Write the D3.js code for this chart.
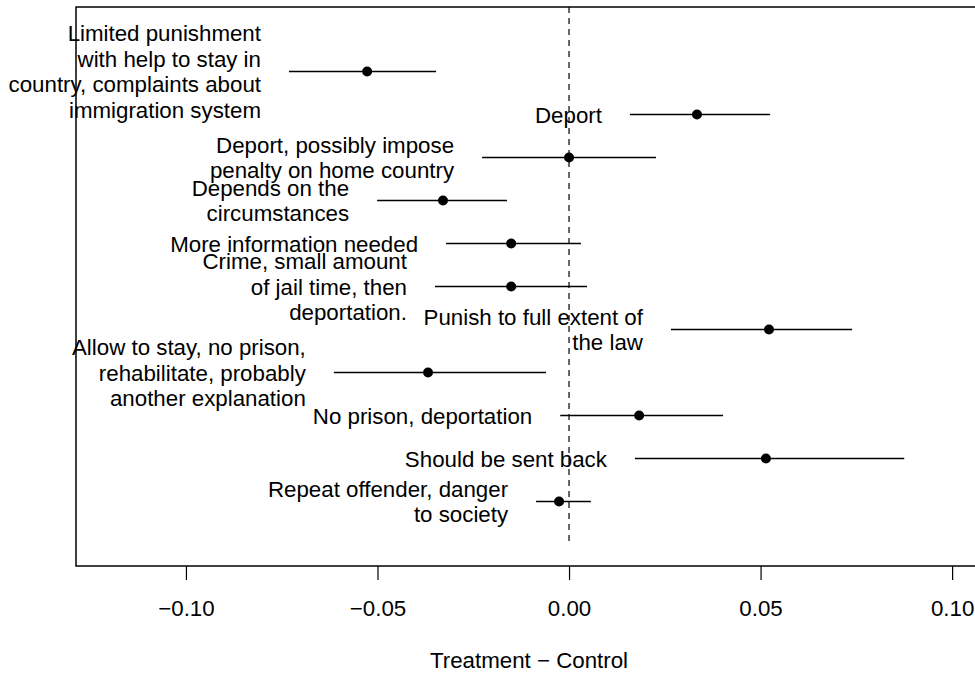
<!DOCTYPE html>
<html>
<head>
<meta charset="utf-8">
<script src="https://cdn.jsdelivr.net/npm/d3@7"></script>
<style>
  body { margin: 0; background: #fff; }
  svg text { font-family: "Liberation Sans", Arial, Helvetica, sans-serif; fill: #000; }
</style>
</head>
<body>
<svg id="chart" width="975" height="675"></svg>
<script>
// categorias (de cima para baixo), com quebras de linha
const labels = [
    ["Limited punishment", "with help to stay in", "country, complaints about", "immigration system"],
    ["Deport"],
    ["Deport, possibly impose", "penalty on home country"],
    ["Depends on the", "circumstances"],
    ["More information needed"],
    ["Crime, small amount", "of jail time, then", "deportation."],
    ["Punish to full extent of", "the law"],
    ["Allow to stay, no prison,", "rehabilitate, probably", "another explanation"],
    ["No prison, deportation"],
    ["Should be sent back"],
    ["Repeat offender, danger", "to society"]
];

// diferença Treatment - Control e intervalo
const estimate = [-0.0527, 0.0334, 0.0000, -0.0329, -0.0151, -0.0151, 0.0522, -0.0368, 0.0183, 0.0514, -0.0026];
const lower    = [-0.0731, 0.0159, -0.0227, -0.0501, -0.0321, -0.0350, 0.0266, -0.0614, -0.0023, 0.0172, -0.0086];
const upper    = [-0.0347, 0.0525, 0.0227, -0.0162, 0.0031, 0.0047, 0.0739, -0.0060, 0.0402, 0.0875, 0.0057];

const xTicks = [-0.10, -0.05, 0.00, 0.05, 0.10];

const svg = d3.select("#chart");
const fs = 22.3;

// escalas (a caixa passa da borda direita)
const x = d3.scaleLinear().domain([-0.1287, 0.1078]).range([76, 982]);
const y = d3.scaleLinear().domain([-0.5, 12.5]).range([566, 7]);

// posição vertical de cada linha (11 em cima, 1 embaixo)
const rowPos = i => y(labels.length - i);

// linha tracejada no zero
svg.append("line")
    .attr("x1", x(0)).attr("x2", x(0))
    .attr("y1", y(12.5)).attr("y2", y(0))
    .attr("stroke", "#000")
    .attr("stroke-width", 1.2)
    .attr("stroke-dasharray", "6,5");

// intervalos
svg.selectAll("line.ci")
    .data(estimate)
    .enter().append("line")
    .attr("class", "ci")
    .attr("x1", (d, i) => x(lower[i]))
    .attr("x2", (d, i) => x(upper[i]))
    .attr("y1", (d, i) => rowPos(i))
    .attr("y2", (d, i) => rowPos(i))
    .attr("stroke", "#000")
    .attr("stroke-width", 1.3);

// pontos
svg.selectAll("circle")
    .data(estimate)
    .enter().append("circle")
    .attr("cx", d => x(d))
    .attr("cy", (d, i) => rowPos(i))
    .attr("r", 5)
    .attr("fill", "#000");

// rótulos à esquerda do intervalo
const lh = 25.5;
labels.forEach((lines, i) => {
    const t = svg.append("text")
        .attr("text-anchor", "end")
        .attr("font-size", fs);
    lines.forEach((s, j) => {
        t.append("tspan")
            .attr("x", x(lower[i]) - 28)
            .attr("y", rowPos(i) + (j - (lines.length - 1) / 2) * lh)
            .attr("dy", "0.36em")
            .text(s);
    });
});

// caixa
svg.append("rect")
    .attr("x", x.range()[0]).attr("y", 7)
    .attr("width", x.range()[1] - x.range()[0])
    .attr("height", 566 - 7)
    .attr("fill", "none")
    .attr("stroke", "#000")
    .attr("stroke-width", 1.5);

// eixo x
const axis = svg.append("g")
    .attr("transform", "translate(0,566)")
    .call(d3.axisBottom(x).tickValues(xTicks).tickFormat(d3.format(".2f")).tickSize(14).tickPadding(20));
axis.select(".domain").remove();
axis.selectAll("line").attr("stroke", "#000").attr("stroke-width", 1.2);
axis.selectAll("text")
    .attr("font-size", fs)
    .attr("font-family", "Liberation Sans, Arial, sans-serif")
    .attr("fill", "#000");

svg.append("text")
    .attr("x", (x.range()[0] + x.range()[1]) / 2)
    .attr("y", 660)
    .attr("dy", "0.36em")
    .attr("text-anchor", "middle")
    .attr("font-size", fs)
    .text("Treatment \u2212 Control");
</script>
</body>
</html>
